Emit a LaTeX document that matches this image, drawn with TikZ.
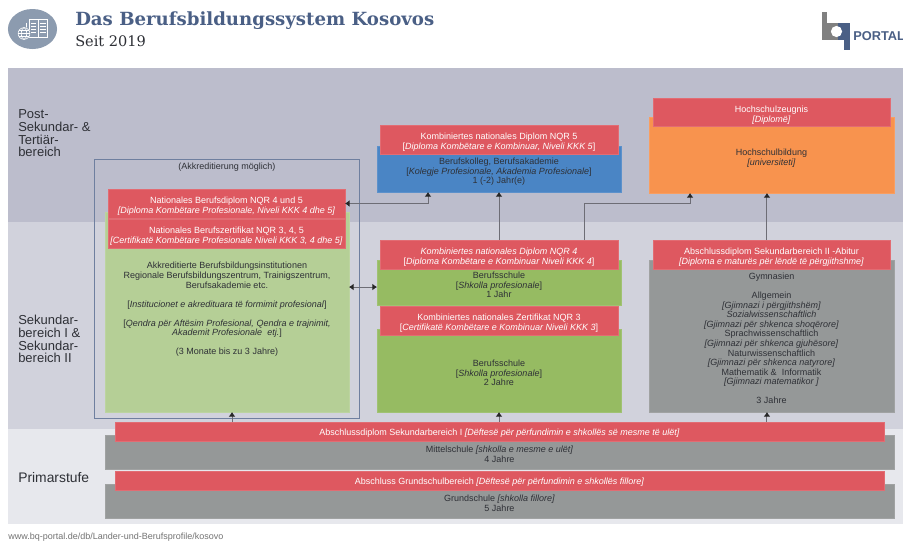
\documentclass[tikz,border=0pt]{standalone}
\usepackage{fontspec}
\setmainfont{Liberation Sans}
\newfontfamily\titlefont{DejaVu Serif}
\usetikzlibrary{arrows.meta}
\definecolor{bandA}{HTML}{BCBDCC}
\definecolor{bandB}{HTML}{D1D2DC}
\definecolor{bandC}{HTML}{E7E8ED}
\definecolor{redbox}{HTML}{DE5860}
\definecolor{lgreen}{HTML}{B5CF96}
\definecolor{mgreen}{HTML}{96BB62}
\definecolor{bluebox}{HTML}{4A85C5}
\definecolor{orangebox}{HTML}{F8934E}
\definecolor{graybox}{HTML}{959898}
\definecolor{navy}{HTML}{4A5F85}
\definecolor{framec}{HTML}{6F7F9F}
\definecolor{linec}{HTML}{6D6D75}
\definecolor{inkc}{HTML}{2E3036}
\definecolor{iconc}{HTML}{8C9BAF}
\tikzset{
  x=0.75pt,y=-0.75pt,
  boxbase/.style={inner sep=0pt,outer sep=0pt,anchor=north west},
  band/.style={boxbase,fill=#1},
  redb/.style={boxbase,fill=redbox,draw=redbox!88!white,line width=0.25pt},
  edu/.style={boxbase,fill=#1,draw=#1!90!white,line width=0.3pt},
  frameb/.style={boxbase,draw=framec,line width=0.75pt},
  txt/.style={align=center,inner sep=0pt,yshift=-0.75pt,text=inkc,font=\fontsize{6.75}{7.15}\selectfont},
  wtxt/.style={txt,text=white},
  side/.style={align=left,inner sep=0pt,anchor=north west,text=inkc,font=\fontsize{9.75}{9.55}\selectfont},
  conn/.style={draw=linec,line width=0.75pt,
     arrows={-Latex[length=3.4pt,width=5pt,color=black!85]}},
  conn2/.style={draw=linec,line width=0.75pt,
     arrows={Latex[length=3.4pt,width=5pt,color=black!85]-Latex[length=3.4pt,width=5pt,color=black!85]}},
}
\newcommand\bx[6]{\node[#6,minimum width={(#4-#2)*0.75pt},minimum height={(#5-#3)*0.75pt}] (#1) at (#2,#3) {};}
\begin{document}
\begin{tikzpicture}
\useasboundingbox (0,0) rectangle (903,540);
\clip (0,0) rectangle (903,540);
\fill[white] (0,0) rectangle (903,540);
% header
\fill[iconc] (32.5,29) ellipse [x radius=18.4pt,y radius=15pt];
\begin{scope}[draw=white,line width=0.45pt]
\draw (29,19.5) rectangle (47.5,37);
\draw (26,22.5) -- (26,28);
\draw (38,20) -- (38,37);
\foreach \yy in {23,26,29,32}{\draw (31,\yy) -- (36,\yy); \draw (40,\yy) -- (45.5,\yy);}
\fill[iconc] (24,33.5) circle (4.9pt);
\draw (24,33.5) circle (4.4pt);
\draw (24,33.5) ellipse [x radius=2pt,y radius=4.4pt];
\draw (18.2,33.5) -- (29.8,33.5);
\draw (19,30.5) -- (29,30.5);
\draw (19,36.5) -- (29,36.5);
\end{scope}
\node[inner sep=0pt,anchor=base west,text=navy,font=\titlefont\bfseries\fontsize{13.6}{15}\selectfont] (title) at (75,25) {Das Berufsbildungssystem Kosovos};
\node[inner sep=0pt,anchor=base west,text=inkc,font=\titlefont\fontsize{10.9}{12}\selectfont] (subtitle) at (75,46) {Seit 2019};
% logo
\fill[black!50] (822,12) rectangle (827,40);
\fill[black!50] (827,23) rectangle (838,40);
\fill[navy] (838,23) rectangle (850,40);
\fill[navy] (844,40) rectangle (850,50);
\fill[white] (836.5,31.5) circle (4.2pt);
\node[inner sep=0pt,anchor=base west,text=navy,font=\bfseries\fontsize{9.6}{10}\selectfont] (portal) at (853,40) {PORTAL};
% bands
\bx{bandtop}{8}{68}{903}{222}{band=bandA}
\bx{bandmid}{8}{222}{903}{429}{band=bandB}
\bx{bandlow}{8}{429}{903}{524}{band=bandC}
\node[side] (l1) at (18,109.5) {Post-\\Sekundar- \&\\Tertiär-\\bereich};
\node[side] (l2) at (18,315) {Sekundar-\\bereich I \&\\Sekundar-\\bereich II};
\node[side,font=\fontsize{10.4}{11}\selectfont] (l3) at (18,472) {Primarstufe};
\node[inner sep=0pt,anchor=base west,text=black!55,font=\fontsize{6.75}{8}\selectfont] (url) at (8,539) {www.bq-portal.de/db/Lander-und-Berufsprofile/kosovo};
% frame + education boxes
\bx{frame}{94}{159}{359}{418}{frameb}
\bx{lg}{105}{212}{349}{412}{edu=lgreen}
\bx{blue}{377}{146}{621}{192}{edu=bluebox}
\bx{gA}{377}{260}{621}{305}{edu=mgreen}
\bx{gB}{377}{329}{621}{412}{edu=mgreen}
\bx{orange}{649}{117}{894}{193}{edu=orangebox}
\bx{gym}{649}{260}{894}{412}{edu=graybox}
\bx{mid}{105}{435}{894}{469}{edu=graybox}
\bx{prim}{105}{484}{894}{518}{edu=graybox}
% red certificates
\bx{rA}{108}{189}{345}{218}{redb}
\bx{rB}{108}{219}{345}{248}{redb}
\bx{rC}{380}{125}{618}{154}{redb}
\bx{rD}{380}{240}{618}{269}{redb}
\bx{rE}{380}{306}{618}{335}{redb}
\bx{rF}{653}{98}{890}{126}{redb}
\bx{rG}{653}{240}{890}{269}{redb}
\bx{rH}{115}{422}{884}{441}{redb}
\bx{rI}{115}{471}{884}{490}{redb}
% texts
\node[txt] (tframe) at (227,166) {(Akkreditierung möglich)};
\node[wtxt] (tA) at (226.5,205) {Nationales Berufsdiplom NQR 4 und 5\\\textit{[Diploma Kombëtare Profesionale, Niveli KKK 4 dhe 5]}};
\node[wtxt] (tB) at (226.5,235) {Nationales Berufszertifikat NQR 3, 4, 5\\\textit{[Certifikatë Kombëtare Profesionale Niveli KKK 3, 4 dhe 5]}};
\node[txt] (tlg) at (227,308.5) {Akkreditierte Berufsbildungsinstitutionen\\Regionale Berufsbildungszentrum, Trainigszentrum,\\Berufsakademie etc.\\[7.15pt][\textit{Institucionet e akredituara të formimit profesional}]\\[7.15pt][\textit{Qendra për Aftësim Profesional, Qendra e trajnimit,}\\\textit{Akademit Profesionale\ \ etj.}]\\[7.15pt](3 Monate bis zu 3 Jahre)};
\node[wtxt] (tC) at (499,141) {Kombiniertes nationales Diplom NQR 5\\{[}\textit{Diploma Kombëtare e Kombinuar, Niveli KKK 5}]};
\node[txt] (tblue) at (499,171) {Berufskolleg, Berufsakademie\\{[}\textit{Kolegje Profesionale, Akademia Profesionale}]\\1 (-2) Jahr(e)};
\node[wtxt] (tD) at (499,256) {\textit{Kombiniertes nationales Diplom NQR 4}\\{[}\textit{Diploma Kombëtare e Kombinuar Niveli KKK 4}]};
\node[txt] (tgA) at (499,284) {Berufsschule\\{[}\textit{Shkolla profesionale}]\\1 Jahr};
\node[wtxt] (tE) at (499,322) {Kombiniertes nationales Zertifikat NQR 3\\{[}\textit{Certifikatë Kombëtare e Kombinuar Niveli KKK 3}]};
\node[txt] (tgB) at (499,372) {Berufsschule\\{[}\textit{Shkolla profesionale}]\\2 Jahre};
\node[wtxt] (tF) at (771.5,114) {Hochschulzeugnis\\\textit{[Diplomë]}};
\node[txt] (torange) at (771.5,157) {Hochschulbildung\\\textit{[universiteti]}};
\node[wtxt] (tG) at (771.5,256) {Abschlussdiplom Sekundarbereich II -Abitur\\\textit{[Diploma e maturës për lëndë të përgjithshme]}};
\node[txt] (tgym) at (771.5,337.5) {Gymnasien\\[7.15pt]Allgemein\\\textit{[Gjimnazi i përgjithshëm]}\\\textit{Sozialwissenschaftlich}\\\textit{[Gjimnazi për shkenca shoqërore]}\\Sprachwissenschaftlich\\\textit{[Gjimnazi për shkenca gjuhësore]}\\Naturwissenschaftlich\\\textit{[Gjimnazi për shkenca natyrore]}\\Mathematik \&\ \ Informatik\\\textit{[Gjimnazi matematikor ]}\\[7.15pt]3 Jahre};
\node[wtxt] (tH) at (499.5,432) {Abschlussdiplom Sekundarbereich I \textit{[Dëftesë për përfundimin e shkollës së mesme të ulët]}};
\node[txt] (tmid) at (499.5,453.5) {Mittelschule \textit{[shkolla e mesme e ulët]}\\4 Jahre};
\node[wtxt] (tI) at (499.5,481) {Abschluss Grundschulbereich \textit{[Dëftesë për përfundimin e shkollës fillore]}};
\node[txt] (tprim) at (499.5,502.5) {Grundschule \textit{[shkolla fillore]}\\5 Jahre};
% connectors
\draw[conn] ([xshift=3.75pt]lg.south |- rH.north) -- ([xshift=3.75pt]lg.south);
\draw[conn] (gB.south |- rH.north) -- (gB.south);
\draw[conn] ([xshift=-3.4pt]gym.south |- rH.north) -- ([xshift=-3.4pt]gym.south);
\draw[conn] (rD.north) -- (blue.south);
\draw[conn] ([xshift=-3.4pt]rG.north) -- ([xshift=-3.4pt]orange.south);
\draw[conn2] (rA.east) -| ([xshift=-53.25pt]blue.south);
\draw[conn] ([xshift=63.75pt]rD.north) |- ([xshift=-61.1pt]orange.south |- rA.east) -- ([xshift=-61.1pt]orange.south);
\draw[conn2] ([yshift=-3.4pt]gA.west -| lg.east) -- ([yshift=-3.4pt]gA.west);
\end{tikzpicture}
\end{document}
